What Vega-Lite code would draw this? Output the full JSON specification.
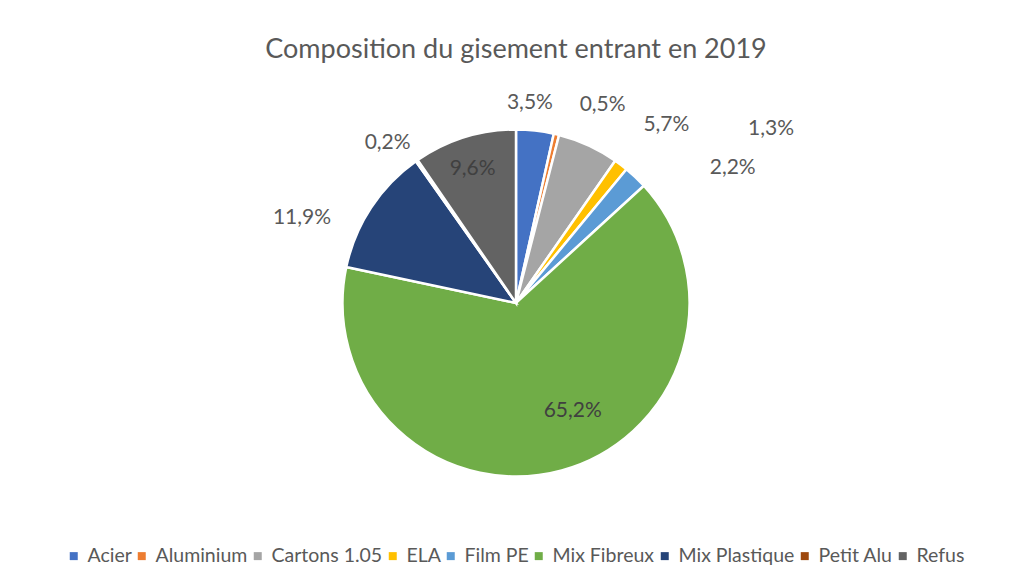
{
  "$schema": "https://vega.github.io/schema/vega-lite/v6.json",
  "autosize": {"type": "none"},
  "padding": {"left": 7, "top": 11, "right": 0, "bottom": 0},
  "width": 1018,
  "height": 584,
  "background": "white",
  "config": {"view": {"stroke": "#d9d9d9", "strokeWidth": 2}, "font": "Lato"},
  "title": {
    "text": "Composition du gisement entrant en 2019",
    "anchor": "middle",
    "font": "Lato",
    "fontSize": 27,
    "fontWeight": "normal",
    "color": "#595959",
    "offset": 0,
    "baseline": "middle",
    "dy": 66
  },
  "data": {
    "values": [
      {"cat": "Acier", "value": 3.5, "label": "3,5%"},
      {"cat": "Aluminium", "value": 0.5, "label": "0,5%"},
      {"cat": "Cartons 1.05", "value": 5.7, "label": "5,7%"},
      {"cat": "ELA", "value": 1.3, "label": "1,3%"},
      {"cat": "Film PE", "value": 2.2, "label": "2,2%"},
      {"cat": "Mix Fibreux", "value": 65.2, "label": "65,2%"},
      {"cat": "Mix Plastique", "value": 11.9, "label": "11,9%"},
      {"cat": "Petit Alu", "value": 0.2, "label": "0,2%"},
      {"cat": "Refus", "value": 9.6, "label": "9,6%"}
    ]
  },
  "layer": [
    {
      "mark": {"type": "arc", "outerRadius": 173.5, "stroke": "white", "strokeWidth": 2.5},
      "encoding": {
        "theta": {"field": "value", "type": "quantitative", "stack": true},
        "order": {"field": "cat", "type": "ordinal"},
        "color": {
          "field": "cat",
          "type": "nominal",
          "scale": {
            "domain": ["Acier", "Aluminium", "Cartons 1.05", "ELA", "Film PE", "Mix Fibreux", "Mix Plastique", "Petit Alu", "Refus"],
            "range": ["#4472C4", "#ED7D31", "#A5A5A5", "#FFC000", "#5B9BD5", "#70AD47", "#264478", "#9E480E", "#636363"]
          },
          "legend": {
            "title": null,
            "orient": "none",
            "direction": "horizontal",
            "columns": 9,
            "legendX": 57,
            "legendY": 535,
            "padding": 0,
            "symbolType": "square",
            "symbolSize": 64,
            "symbolStrokeWidth": 0,
            "labelFont": "Lato",
            "labelFontSize": 19.5,
            "labelColor": "#595959",
            "labelOffset": 4,
            "columnPadding": 0,
            "labelLimit": 300
          }
        }
      }
    },
    {
      "mark": {
        "type": "text",
        "radius": 200,
        "font": "Lato",
        "fontSize": 21,
        "align": "center",
        "baseline": "middle",
        "fill": {"expr": "datum.cat === 'Refus' || datum.cat === 'Mix Fibreux' ? '#404040' : '#595959'"},
        "dx": {"expr": "datum.cat === 'Acier' ? -8 : datum.cat === 'Aluminium' ? 40 : datum.cat === 'Cartons 1.05' ? 67 : datum.cat === 'ELA' ? 134 : datum.cat === 'Film PE' ? 79 : datum.cat === 'Mix Fibreux' ? 4 : datum.cat === 'Mix Plastique' ? -47 : datum.cat === 'Petit Alu' ? -14 : 16"},
        "dy": {"expr": "datum.cat === 'Acier' ? -1 : datum.cat === 'Aluminium' ? -4 : datum.cat === 'Cartons 1.05' ? 4 : datum.cat === 'ELA' ? -15 : datum.cat === 'Film PE' ? 10 : datum.cat === 'Mix Fibreux' ? -85 : datum.cat === 'Mix Plastique' ? 25 : datum.cat === 'Petit Alu' ? 4 : 57"}
      },
      "encoding": {
        "theta": {"field": "value", "type": "quantitative", "stack": true},
        "order": {"field": "cat", "type": "ordinal"},
        "text": {"field": "label", "type": "nominal"}
      }
    }
  ]
}
